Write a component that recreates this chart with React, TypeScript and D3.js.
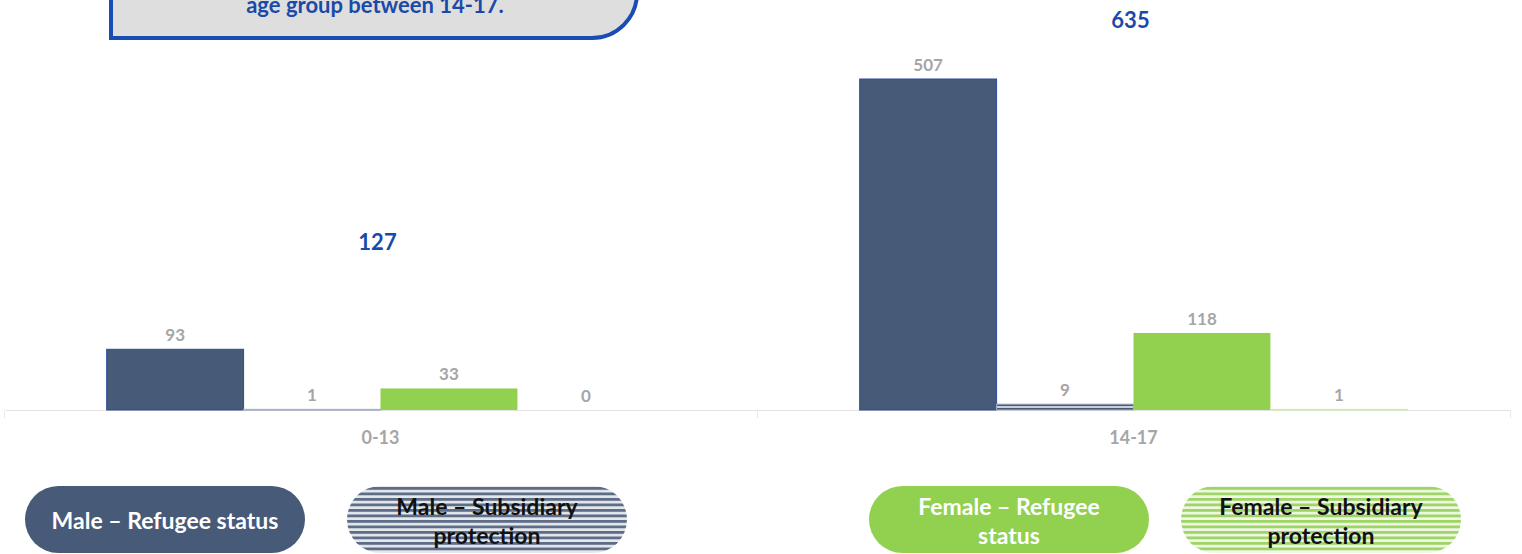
import React from "react";
import * as d3 from "d3";

const ageGroups = ["0-13", "14-17"];
const seriesNames = [
  "Male – Refugee status",
  "Male – Subsidiary protection",
  "Female – Refugee status",
  "Female – Subsidiary protection",
];
const maleRefugee = [93, 507];
const maleSubsidiary = [1, 9];
const femaleRefugee = [33, 118];
const femaleSubsidiary = [0, 1];
const calloutText = "age group between 14-17.";

const W = 1522;
const H = 554;
const FONT = "Lato, 'Open Sans', sans-serif";
const SLATE = "#475a78";
const GREEN = "#92d050";
const GRAYTXT = "#a6a6a6";
const BLUE = "#1a4aa8";

export default function App() {
  React.useEffect(() => {
    document.body.style.margin = "0";
  }, []);

  const series = [maleRefugee, maleSubsidiary, femaleRefugee, femaleSubsidiary];
  const fills = [SLATE, "url(#stripeSlate)", GREEN, "url(#stripeGreen)"];
  const strokes = ["#2c4b9a", "#a9b2c2", "none", "#d5e8bf"];

  const x0 = d3.scaleBand<string>().domain(ageGroups).range([4, 1510]).padding(0);
  const x1 = d3
    .scaleBand<number>()
    .domain(d3.range(series.length))
    .range([0, x0.bandwidth()])
    .paddingInner(0)
    .paddingOuter(0.75);
  const y = d3.scaleLinear().domain([0, 628]).range([410, 0]);
  const y2 = d3.scaleLinear().domain([0, 680]).range([300, 3]);
  const totals = ageGroups.map((_, i) => d3.sum(series, (s) => s[i]));

  const baseY = y(0);

  const legendPos = [
    { x: 25, lines: ["Male – Refugee status"], fill: SLATE, color: "#ffffff" },
    { x: 347, lines: ["Male – Subsidiary", "protection"], fill: "url(#stripeSlateL)", color: "#111111" },
    { x: 869, lines: ["Female – Refugee", "status"], fill: GREEN, color: "#ffffff" },
    { x: 1181, lines: ["Female – Subsidiary", "protection"], fill: "url(#stripeGreenL)", color: "#111111" },
  ];

  return (
    <svg width={W} height={H} style={{ display: "block", background: "#ffffff" }}>
      <defs>
        <pattern id="stripeSlate" patternUnits="userSpaceOnUse" width="8" height="4">
          <rect width="8" height="4" fill="#c9d0db" />
          <rect width="8" height="2" fill={SLATE} />
        </pattern>
        <pattern id="stripeGreen" patternUnits="userSpaceOnUse" width="8" height="4">
          <rect width="8" height="4" fill="#eaf5dc" />
          <rect width="8" height="2" fill="#c7e6a4" />
        </pattern>
        <pattern id="stripeSlateL" patternUnits="userSpaceOnUse" width="8" height="5.5" y="487">
          <rect width="8" height="5.5" fill="#e4e7ec" />
          <rect width="8" height="2.8" fill="#5d6d87" />
        </pattern>
        <pattern id="stripeGreenL" patternUnits="userSpaceOnUse" width="8" height="5.5" y="487">
          <rect width="8" height="5.5" fill="#eef7e3" />
          <rect width="8" height="2.8" fill="#9fd466" />
        </pattern>
      </defs>

      {/* callout box (partially off the top) */}
      <path
        d={`M111,-60 L111,38 L592,38 A45,45 0 0 0 637,-7 L637,-60 Z`}
        fill="#dedede"
        stroke="#1a4db3"
        strokeWidth={4}
      />
      <text
        x={375}
        y={13}
        textAnchor="middle"
        fontFamily={FONT}
        fontWeight={700}
        fontSize={22}
        fill={BLUE}
      >
        {calloutText}
      </text>

      {/* axis line */}
      <line x1={6} x2={1510} y1={baseY + 0.5} y2={baseY + 0.5} stroke="#e3e3e3" strokeWidth={1} />
      {[...ageGroups.map((g) => x0(g)!), 1510].map((xv, i) => (
        <line key={i} x1={xv + 0.5} x2={xv + 0.5} y1={baseY} y2={baseY + 8} stroke="#e8e8e8" />
      ))}

      {/* bars */}
      {ageGroups.map((g, gi) => (
        <g key={g} transform={`translate(${x0(g)},0)`}>
          {series.map((s, si) => {
            const v = s[gi];
            const bx = x1(si)!;
            const bw = x1.bandwidth();
            const top = y(v);
            const h = baseY - top;
            return (
              <g key={si}>
                {v > 0 && (
                  <rect
                    x={bx}
                    y={top}
                    width={bw}
                    height={Math.max(h, 1)}
                    fill={fills[si]}
                    stroke={strokes[si]}
                    strokeWidth={strokes[si] === "none" ? 0 : 1}
                  />
                )}
                <text
                  x={bx + bw / 2}
                  y={top - 8}
                  textAnchor="middle"
                  fontFamily={FONT}
                  fontWeight={700}
                  fontSize={17}
                  fill={GRAYTXT}
                >
                  {v}
                </text>
              </g>
            );
          })}
          <text
            x={x0.bandwidth() / 2}
            y={444}
            textAnchor="middle"
            fontFamily={FONT}
            fontWeight={700}
            fontSize={18}
            fill={GRAYTXT}
          >
            {g}
          </text>
          <text
            x={x0.bandwidth() / 2 - 3}
            y={y2(totals[gi])}
            dominantBaseline="middle"
            textAnchor="middle"
            fontFamily={FONT}
            fontWeight={700}
            fontSize={22}
            fill={BLUE}
          >
            {totals[gi]}
          </text>
        </g>
      ))}

      {/* legend pills */}
      {legendPos.map((l, i) => (
        <g key={i}>
          <rect x={l.x} y={486} width={280} height={67} rx={33.5} ry={33.5} fill={l.fill} />
          {l.lines.map((t, li) => (
            <text
              key={li}
              x={l.x + 140}
              y={l.lines.length === 1 ? 529 : 515 + li * 29}
              textAnchor="middle"
              fontFamily={FONT}
              fontWeight={700}
              fontSize={23}
              fill={l.color}
            >
              {t}
            </text>
          ))}
        </g>
      ))}
      <title>{seriesNames.join(", ")}</title>
    </svg>
  );
}
